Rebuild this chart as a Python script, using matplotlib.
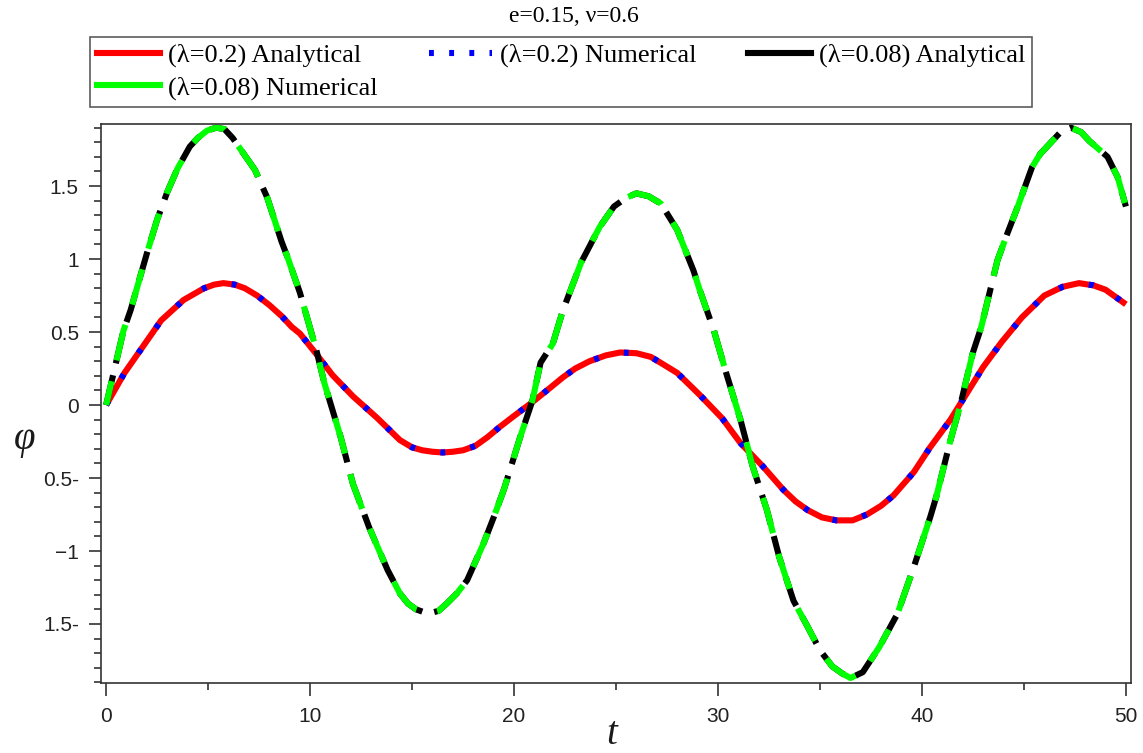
import numpy as np
import matplotlib
matplotlib.use("Agg")
import matplotlib.pyplot as plt
from matplotlib.lines import Line2D
from matplotlib.ticker import MultipleLocator, FixedLocator

# lambda = 0.2 (analytical / numerical practically coincide)
t_02 = [0, 0.45, 0.9, 1.8, 2.7, 3.8, 4.8, 5.3, 5.75, 6.3, 6.8, 7.4, 8.0, 8.6, 9.1,
        9.5, 10.3, 11.1, 12.1, 13.3, 14.4, 15.0, 15.5, 16.0, 16.5, 17.0, 17.5,
        18.1, 18.7, 19.3, 19.95, 20.9, 21.7, 22.4, 23.0, 23.7, 24.5, 25.2, 26.0,
        26.7, 27.3, 28.0, 29.1, 30.2, 31.1, 32.2, 33.2, 33.8, 34.4, 35.1, 35.8,
        36.6, 37.3, 38.0, 38.6, 39.6, 40.4, 41.4, 42.2, 43.0, 43.9, 44.9, 46.0,
        46.9, 47.7, 48.4, 49.0, 50]
phi_02 = [0, 0.11, 0.22, 0.40, 0.58, 0.72, 0.80, 0.825, 0.835, 0.825, 0.80, 0.75,
          0.685, 0.61, 0.535, 0.49, 0.35, 0.205, 0.06, -0.09, -0.24, -0.29,
          -0.31, -0.32, -0.325, -0.32, -0.31, -0.28, -0.22, -0.15, -0.08, 0.02,
          0.11, 0.19, 0.25, 0.30, 0.34, 0.36, 0.355, 0.33, 0.28, 0.22, 0.07,
          -0.09, -0.26, -0.42, -0.58, -0.66, -0.72, -0.77, -0.79, -0.79, -0.75,
          -0.69, -0.62, -0.46, -0.29, -0.10, 0.08, 0.26, 0.43, 0.60, 0.75, 0.81,
          0.835, 0.82, 0.79, 0.69]

# lambda = 0.08
t_008 = [0, 0.85, 1.2, 2.0, 2.5, 3.0, 3.5, 4.1, 4.5, 4.95, 5.4, 5.8, 6.2, 6.7,
         7.3, 7.9, 8.6, 8.9, 9.5, 10.3, 10.7, 11.5, 12.1, 12.9, 13.8, 14.4, 14.8,
         15.2, 15.6, 15.9, 16.3, 16.7, 17.2, 17.7, 18.5, 19.0, 19.5, 20.3, 20.9,
         21.3, 21.9, 22.4, 23.3, 24.2, 24.9, 25.5, 26.0, 26.6, 27.2, 28.0, 28.8,
         29.1, 29.8, 30.4, 31.1, 31.7, 32.4, 33.0, 33.7, 34.4, 35.0, 35.6, 36.1,
         36.5, 37.1, 37.9, 38.8, 39.6, 40.4, 40.7, 41.4, 41.9, 42.5, 42.9, 43.7,
         44.2, 44.7, 45.4, 45.8, 46.4, 46.8, 47.3, 47.8, 48.2, 49.1, 49.6, 50]
phi_008 = [0, 0.51, 0.65, 1.04, 1.27, 1.46, 1.62, 1.77, 1.83, 1.88, 1.90, 1.89,
           1.83, 1.73, 1.61, 1.42, 1.12, 1.01, 0.77, 0.38, 0.15, -0.22, -0.54,
           -0.84, -1.13, -1.29, -1.36, -1.40, -1.42, -1.425, -1.41, -1.36, -1.29,
           -1.20, -0.95, -0.77, -0.58, -0.22, 0.03, 0.29, 0.42, 0.65, 0.98, 1.22,
           1.36, 1.42, 1.45, 1.43, 1.38, 1.20, 0.92, 0.79, 0.51, 0.22, -0.10,
           -0.42, -0.72, -1.04, -1.34, -1.52, -1.68, -1.79, -1.84, -1.87, -1.83,
           -1.66, -1.43, -1.11, -0.77, -0.63, -0.24, 0.01, 0.36, 0.53, 0.99, 1.18,
           1.36, 1.63, 1.72, 1.81, 1.87, 1.90, 1.87, 1.81, 1.70, 1.56, 1.36]

labels = ["(λ=0.2) Analytical", "(λ=0.08) Numerical",
          "(λ=0.2) Numerical", "(λ=0.08) Analytical"]
yticks = [-1.5, -1, -0.5, 0, 0.5, 1, 1.5]
ytick_labels = ["1.5-", "\u22121", "0.5-", "0", "0.5", "1", "1.5"]
xticks = [0, 10, 20, 30, 40, 50]

fig = plt.figure(figsize=(11.43, 7.53), dpi=100)
ax = fig.add_axes([0.0884, 0.093, 0.9011, 0.7423])

lw = 4.4
ax.plot(t_02, phi_02, color="#ff0000", lw=lw, solid_capstyle="butt",
        solid_joinstyle="round")
ax.plot(t_02, phi_02, color="#0000ff", lw=lw, linestyle=(0, (0.8, 4.2)),
        dash_capstyle="butt")
ax.plot(t_008, phi_008, color="black", lw=lw, linestyle=(0, (5, 2)),
        dash_capstyle="butt")
ax.plot(t_008, phi_008, color="#00ff00", lw=lw, linestyle=(2, (6, 3.5)),
        dash_capstyle="butt")

ax.set_xlim(-0.25, 50.25)
ax.set_ylim(-1.904, 1.925)

ax.xaxis.set_major_locator(FixedLocator(xticks))
ax.xaxis.set_minor_locator(MultipleLocator(5))
ax.yaxis.set_major_locator(FixedLocator(yticks))
ax.yaxis.set_minor_locator(MultipleLocator(0.1))
ax.set_yticklabels(ytick_labels)
ax.set_xticklabels([str(v) for v in xticks])

for sp in ax.spines.values():
    sp.set_color("#333333")
    sp.set_linewidth(1.2)
ax.tick_params(which="major", direction="out", length=9, width=1.2,
               colors="#333333", labelsize=15, labelcolor="#222222")
ax.tick_params(which="minor", direction="out", length=5, width=1.2,
               colors="#333333")
ax.tick_params(axis="x", which="major", pad=8)
ax.tick_params(axis="y", which="major", pad=7)
for lab in ax.get_xticklabels() + ax.get_yticklabels():
    lab.set_family("Liberation Sans")

fig.text(25 / 1143, 1 - 440 / 753, "φ", fontsize=28, style="italic",
         family="Liberation Serif", ha="center", va="center", color="#1a1a1a")
fig.text(612 / 1143, 1 - 735 / 753, "t", fontsize=28, style="italic",
         family="Liberation Serif", ha="center", va="center", color="#1a1a1a")
fig.text(574 / 1143, 1 - 17 / 753, "e=0.15, ν=0.6", fontsize=17,
         family="Liberation Serif", ha="center", va="center")

handles = [Line2D([], [], color="#ff0000", lw=lw),
           Line2D([], [], color="#00ff00", lw=lw),
           Line2D([], [], color="#0000ff", lw=lw, linestyle=(0, (0.8, 2.5))),
           Line2D([], [], color="black", lw=lw)]
leg = fig.legend(handles, labels, ncol=3, loc="upper left",
                 bbox_to_anchor=(90 / 1143, 1 - 108 / 753, 942 / 1143, 71 / 753),
                 mode="expand", frameon=True, fancybox=False,
                 prop={"family": "Liberation Serif", "size": 19},
                 handlelength=2.4, handletextpad=0.3, borderaxespad=0,
                 labelspacing=0.33, borderpad=0.25, columnspacing=0.7)
leg.get_frame().set_edgecolor("#333333")
leg.get_frame().set_linewidth(1.2)

fig.savefig("out.png", dpi=100)
